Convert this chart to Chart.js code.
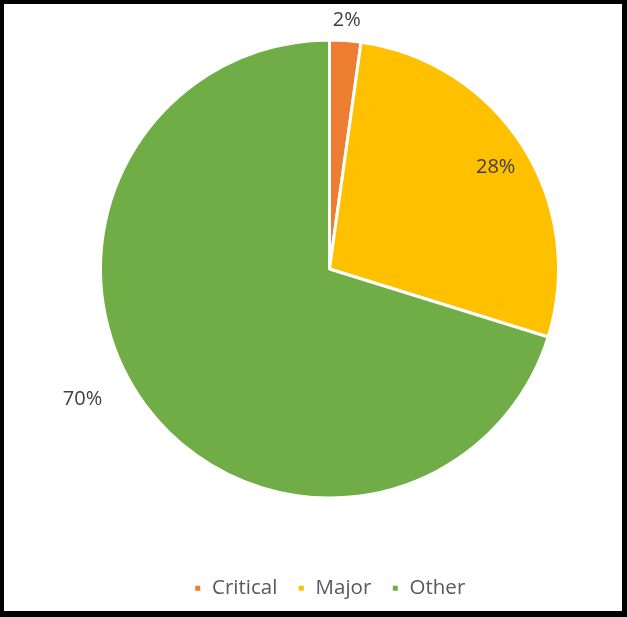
<!DOCTYPE html>
<html>
<head>
<meta charset="utf-8">
<script src="https://cdn.jsdelivr.net/npm/chart.js@4"></script>
<style>
    html, body { margin: 0; padding: 0; background: #fff; }
    #wrap { position: relative; width: 627px; height: 617px; overflow: hidden; }
    /* canvas er lidt højere og skubbet op, så cirklen får samme centrum som originalen */
    #pieChart { position: absolute; left: 0; top: -20px; }
    #frame {
        position: absolute; left: 0; top: 0; width: 627px; height: 617px;
        box-sizing: border-box; border: 4px solid #000; border-right-width: 5px; border-bottom-width: 6px;
        pointer-events: none;
    }
</style>
</head>
<body>
<div id="wrap">
    <canvas id="pieChart" width="627" height="637"></canvas>
    <div id="frame"></div>
</div>
<script>
// Data
const categories = ['Critical', 'Major', 'Other'];
const shares = [2.2, 27.6, 70.2];
const sliceColors = ['#ED7D31', '#FFC000', '#70AD47'];

// Placering af procent-labels (radius-faktor og vinkel-justering i grader)
const labelPlacement = [
    { factor: 1.09, shift: 0 },
    { factor: 0.85, shift: 1 },
    { factor: 1.22, shift: 8.5 }
];

const fontStack = '"Open Sans", Lato, sans-serif';

const percentLabels = {
    id: 'percentLabels',
    afterDatasetsDraw(chart) {
        const ctx = chart.ctx;
        const meta = chart.getDatasetMeta(0);
        const total = shares.reduce((a, b) => a + b, 0);
        ctx.save();
        ctx.font = '20px ' + fontStack;
        ctx.fillStyle = '#404040';
        ctx.textAlign = 'center';
        ctx.textBaseline = 'middle';
        meta.data.forEach((arc, i) => {
            const p = labelPlacement[i];
            const mid = (arc.startAngle + arc.endAngle) / 2 + p.shift * Math.PI / 180;
            const r = arc.outerRadius * p.factor;
            const x = arc.x + Math.cos(mid) * r;
            const y = arc.y + Math.sin(mid) * r;
            ctx.fillText(Math.round(shares[i] / total * 100) + '%', x, y);
        });
        ctx.restore();
    }
};

document.addEventListener("DOMContentLoaded", () => {
    const ctx = document.getElementById('pieChart').getContext('2d');
    new Chart(ctx, {
        type: 'pie',
        data: {
            labels: categories,
            datasets: [{
                data: shares,
                backgroundColor: sliceColors,
                borderColor: '#ffffff',
                borderWidth: 3
            }]
        },
        options: {
            responsive: false,
            animation: false,
            layout: {
                padding: { top: 0, left: 99, right: 67, bottom: 8.5 }
            },
            plugins: {
                legend: {
                    position: 'bottom',
                    labels: {
                        boxWidth: 8,
                        boxHeight: 8,
                        padding: 20,
                        color: '#595959',
                        font: { family: fontStack, size: 20.5 }
                    }
                },
                tooltip: { enabled: false }
            }
        },
        plugins: [percentLabels]
    });
});
</script>
</body>
</html>
